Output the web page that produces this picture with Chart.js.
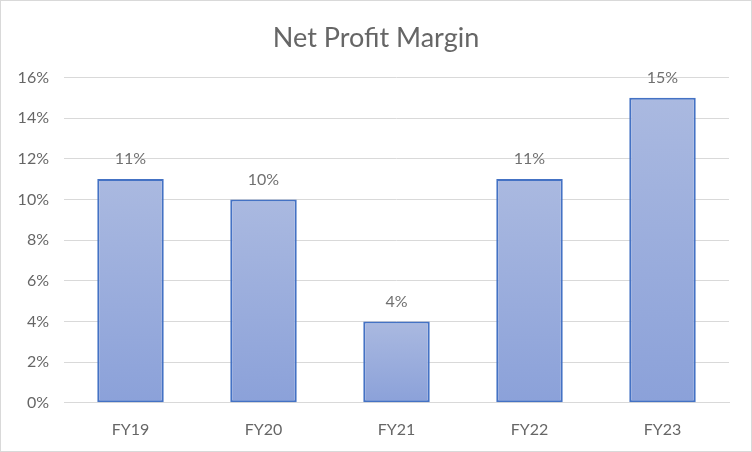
<!DOCTYPE html>
<html lang="en">
<head>
    <meta charset="UTF-8">
    <title>Net Profit Margin</title>
    <script src="https://cdn.jsdelivr.net/npm/chart.js"></script>
    <style>
        body { margin: 0; background: #fff; }
        #wrap { width: 750px; height: 450px; border: 1px solid #D9D9D9; }
    </style>
</head>
<body>
    <div id="wrap"><canvas id="marginChart" width="750" height="450"></canvas></div>

    <script>
        // data
        const years = ['FY19', 'FY20', 'FY21', 'FY22', 'FY23'];
        const margins = [11, 10, 4, 11, 15];
        const yTicks = [0, 2, 4, 6, 8, 10, 12, 14, 16];

        // Excel-like per-bar gradient
        function barGradient(context) {
            const chart = context.chart;
            const y = chart.scales.y;
            if (!y || context.raw === undefined) return '#98ABDC';
            const top = y.getPixelForValue(context.raw);
            const bottom = y.getPixelForValue(0);
            if (!isFinite(top) || !isFinite(bottom) || top === bottom) return '#98ABDC';
            const g = chart.ctx.createLinearGradient(0, top, 0, bottom);
            g.addColorStop(0, '#AAB9E0');
            g.addColorStop(1, '#8BA1D9');
            return g;
        }

        // simple value labels above the bars
        const valueLabels = {
            id: 'valueLabels',
            afterDatasetsDraw(chart) {
                const ctx = chart.ctx;
                const meta = chart.getDatasetMeta(0);
                ctx.save();
                ctx.font = '16px Lato, "Open Sans", sans-serif';
                ctx.fillStyle = '#707070';
                ctx.textAlign = 'center';
                ctx.textBaseline = 'bottom';
                meta.data.forEach((bar, i) => {
                    ctx.fillText(margins[i] + '%', bar.x, bar.y - 12);
                });
                ctx.restore();
            }
        };

        const ctx = document.getElementById('marginChart').getContext('2d');
        const marginChart = new Chart(ctx, {
            type: 'bar',
            data: {
                labels: years,
                datasets: [{
                    label: 'Net Profit Margin',
                    data: margins,
                    backgroundColor: barGradient,
                    borderColor: '#4472C4',
                    borderWidth: 2,
                    borderSkipped: false,
                    categoryPercentage: 1,
                    barPercentage: 0.5,
                }]
            },
            options: {
                responsive: false,
                animation: false,
                layout: { padding: { left: 0, right: 0, top: 6, bottom: 3 } },
                plugins: {
                    legend: { display: false },
                    tooltip: { enabled: false },
                    title: {
                        display: true,
                        text: 'Net Profit Margin',
                        color: '#666666',
                        font: { family: 'Lato, "Open Sans", sans-serif', size: 27, weight: 'normal' },
                        padding: { top: 15, bottom: 23 }
                    }
                },
                scales: {
                    x: {
                        grid: { display: false },
                        border: { color: '#D9D9D9', width: 1 },
                        ticks: {
                            color: '#666666',
                            font: { family: 'Lato, "Open Sans", sans-serif', size: 16 },
                            padding: 9
                        }
                    },
                    y: {
                        min: 0,
                        max: 16,
                        afterBuildTicks(axis) {
                            axis.ticks = yTicks.map(v => ({ value: v }));
                        },
                        afterFit(axis) {
                            axis.width = 63;
                        },
                        grid: { color: '#D9D9D9', drawTicks: false },
                        border: { display: false },
                        ticks: {
                            color: '#666666',
                            font: { family: 'Lato, "Open Sans", sans-serif', size: 16 },
                            padding: 15,
                            callback: v => v + '%'
                        }
                    },
                    // empty right-hand strip so the title stays centred on the page
                    spacer: {
                        type: 'linear',
                        position: 'right',
                        grid: { display: false },
                        border: { display: false },
                        ticks: { display: false },
                        afterFit(axis) {
                            axis.width = 22;
                        }
                    }
                }
            },
            plugins: [valueLabels]
        });
    </script>
</body>
</html>
